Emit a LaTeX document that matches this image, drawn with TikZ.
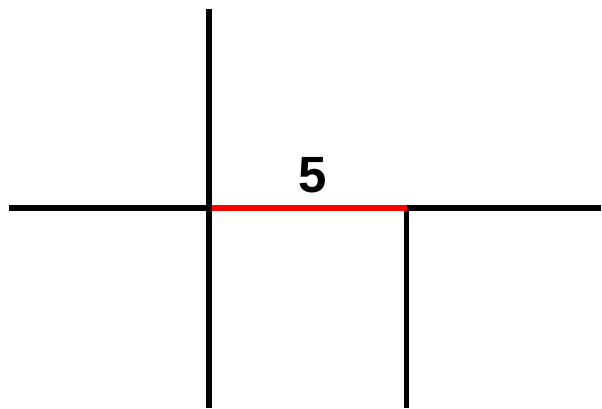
\documentclass[tikz,border=0pt]{standalone}
\usepackage{fontspec}
\setmainfont{Liberation Sans}
\begin{document}
\begin{tikzpicture}[x=1pt,y=-1pt,
  seg/.style={line width=5.5pt},
  lbl/.style={font=\bfseries\fontsize{51}{56}\selectfont, inner sep=0pt}]
\useasboundingbox (0,0) rectangle (602,408);
\coordinate (L) at (9,208);
\coordinate (A) at (209,208);
\coordinate (B) at (406.5,208);
\coordinate (R) at (601,208);
\coordinate (T) at (209,9);
\coordinate (Ab) at (209,408);
\coordinate (Bb) at (406.5,408);
\draw[seg] (L) -- (A);
\draw[seg] (B) -- (R);
\draw[seg,red] (A) -- (B);
\draw[seg] (T) -- (Ab);
\draw[seg] ([yshift=-2.75pt]B) -- (Bb);
\node[lbl,anchor=base] (five) at (312.5,192) {5};
\end{tikzpicture}
\end{document}
